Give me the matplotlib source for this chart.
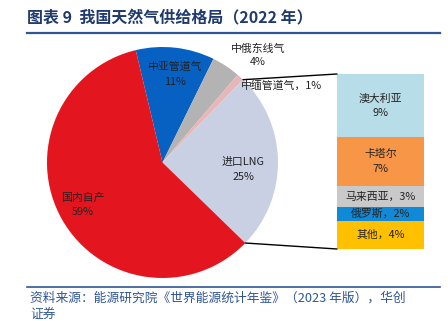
import numpy as np
import matplotlib
matplotlib.use('Agg')
import matplotlib.pyplot as plt
from matplotlib.patches import ConnectionPatch

plt.rcParams['font.family'] = ['Noto Sans CJK SC', 'DejaVu Sans']

# pie data (clockwise from top)
pie_labels = ['中亚管道气', '中俄东线气', '中缅管道气', '进口LNG', '国内自产']
pie_values = [11, 4, 1, 25, 59]
pie_colors = ['#0661C2', '#B3B3B3', '#E8B6B6', '#C9D0E4', '#E3161F']

# LNG breakdown (bottom to top)
bar_labels = ['其他', '俄罗斯', '马来西亚', '卡塔尔', '澳大利亚']
bar_values = [4, 2, 3, 7, 9]
bar_colors = ['#FFC000', '#1089D6', '#C9C9C9', '#F79646', '#B7DDE8']

W, H = 448, 321
fig = plt.figure(figsize=(W / 100, H / 100), dpi=100)

def px(x0, y0, x1, y1):
    # image pixel box -> figure fraction rect
    return [x0 / W, 1 - y1 / H, (x1 - x0) / W, (y1 - y0) / H]

# title and rules
fig.text(27 / W, 1 - 17 / H, '图表 9  我国天然气供给格局（2022 年）', fontsize=11.5,
         fontweight='bold', color='#1F3A6E', va='center', ha='left')
fig.add_artist(plt.Line2D([27 / W, 440 / W], [1 - 33 / H, 1 - 33 / H], color='#2F5597', lw=1.6))
fig.add_artist(plt.Line2D([27 / W, 440 / W], [1 - 287 / H, 1 - 287 / H], color='#2F5597', lw=1.2))
fig.text(30 / W, 1 - 298 / H, '资料来源：能源研究院《世界能源统计年鉴》（2023 年版），华创',
         fontsize=9.2, color='#2F5597', va='center', ha='left', style='italic')
fig.text(30 / W, 1 - 314 / H, '证券', fontsize=9.2, color='#2F5597', va='center', ha='left', style='italic')

# pie
cx, cy, r = 162.5, 162.5, 115.5
ax = fig.add_axes(px(cx - r, cy - r, cx + r, cy + r))
start = 103.4
wedges, _ = ax.pie(pie_values, colors=pie_colors, startangle=start, counterclock=False,
                   radius=1, wedgeprops=dict(linewidth=0))
ax.set_xlim(-1, 1)
ax.set_ylim(-1, 1)
ax.set_aspect('equal')
ax.axis('off')

def pie_xy(ix, iy):
    return ((ix - cx) / r, (cy - iy) / r)

lab = dict(fontsize=7.8, ha='center', va='center', color='#222222')
ax.text(*pie_xy(175, 67), pie_labels[0], **lab)
ax.text(*pie_xy(175, 82), '%d%%' % pie_values[0], **lab)
ax.text(*pie_xy(258, 49), pie_labels[1], clip_on=False, **lab)
ax.text(*pie_xy(258, 62), '%d%%' % pie_values[1], clip_on=False, **lab)
ax.text(*pie_xy(281, 85), pie_labels[2] + '，%d%%' % pie_values[2], clip_on=False, **lab)
ax.text(*pie_xy(243, 162), pie_labels[3], **lab)
ax.text(*pie_xy(243, 177), '%d%%' % pie_values[3], **lab)
ax.text(*pie_xy(83, 198), pie_labels[4], **lab)
ax.text(*pie_xy(83, 212), '%d%%' % pie_values[4], **lab)

# stacked bar
bx = fig.add_axes(px(337, 74, 424, 249))
bottom = 0
for v, c in zip(bar_values, bar_colors):
    bx.bar(0, v, bottom=bottom, width=1, color=c, linewidth=0)
    bottom += v
bx.set_xlim(-0.5, 0.5)
bx.set_ylim(0, sum(bar_values))
bx.axis('off')

mids = np.cumsum(bar_values) - np.array(bar_values) / 2
bx.text(0, mids[4] + 1, bar_labels[4], **lab)
bx.text(0, mids[4] - 1, '%d%%' % bar_values[4], **lab)
bx.text(0, mids[3] + 1, bar_labels[3], **lab)
bx.text(0, mids[3] - 1, '%d%%' % bar_values[3], **lab)
for i in range(3):
    bx.text(0, mids[i], bar_labels[i] + '，%d%%' % bar_values[i], **lab)

# connector lines from LNG wedge edges to bar corners
lng = wedges[3]
for ang, yb in [(lng.theta2, sum(bar_values)), (lng.theta1, 0)]:
    p = (np.cos(np.radians(ang)), np.sin(np.radians(ang)))
    con = ConnectionPatch(xyA=(-0.5, yb), coordsA=bx.transData, xyB=p, coordsB=ax.transData,
                          color='black', lw=1)
    fig.add_artist(con)

fig.savefig('out.png', dpi=100)
